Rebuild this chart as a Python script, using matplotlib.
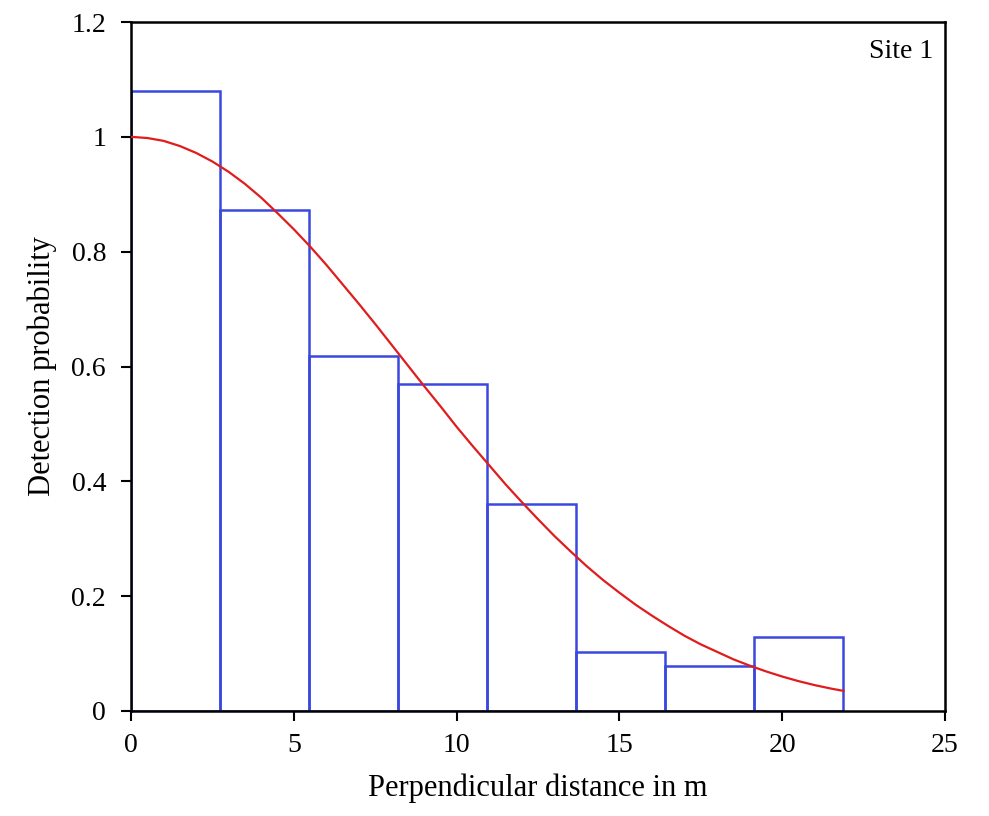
import matplotlib
matplotlib.use("Agg")
import matplotlib.pyplot as plt
import numpy as np

# Histogram of perpendicular distances (scaled)
bin_edges = [0, 2.735, 5.47, 8.205, 10.94, 13.675, 16.41, 19.145, 21.88]
bin_heights = [1.08, 0.872, 0.618, 0.570, 0.361, 0.103, 0.078, 0.128]

# Fitted detection function
curve_x = [0, 0.5, 1, 1.5, 2, 2.5, 3, 3.5, 4, 4.5, 5, 5.5, 6, 6.5, 7, 7.5, 8, 8.5,
           9, 9.5, 10, 10.5, 11, 11.5, 12, 12.5, 13, 13.5, 14, 14.5, 15, 15.5,
           16, 16.5, 17, 17.5, 18, 18.5, 19, 19.5, 20, 20.5, 21, 21.5, 21.88]
curve_y = [1.000, 0.998, 0.993, 0.984, 0.972, 0.957, 0.939, 0.918, 0.894, 0.867,
           0.839, 0.809, 0.777, 0.743, 0.709, 0.674, 0.638, 0.602, 0.566, 0.531,
           0.495, 0.461, 0.428, 0.395, 0.364, 0.334, 0.305, 0.278, 0.252, 0.228,
           0.206, 0.185, 0.166, 0.148, 0.131, 0.116, 0.103, 0.090, 0.079, 0.069,
           0.060, 0.052, 0.045, 0.039, 0.035]

plt.rcParams['font.family'] = ['Liberation Serif', 'DejaVu Serif']

fig = plt.figure(figsize=(9.89, 8.16), dpi=100)
ax = fig.add_axes([0.1325, 0.1287, 0.823, 0.8443])

left = np.array(bin_edges[:-1])
widths = np.diff(bin_edges)
ax.bar(left, bin_heights, width=widths, align='edge', fill=False,
       edgecolor='#3a48e0', linewidth=1.8, zorder=2)
ax.plot(curve_x, curve_y, color='#e01c1c', linewidth=1.6, zorder=3)

ax.set_xlim(0, 25)
ax.set_ylim(0, 1.2)
ax.set_xticks([0, 5, 10, 15, 20, 25])
ax.set_yticks([0, 0.2, 0.4, 0.6, 0.8, 1.0, 1.2])
ax.set_yticklabels(['0', '0.2', '0.4', '0.6', '0.8', '1', '1.2'])
ax.tick_params(direction='out', length=7, width=1.5, labelsize=20)
ax.tick_params(axis='y', pad=11)
ax.tick_params(axis='x', pad=9)
for s in ax.spines.values():
    s.set_linewidth(1.8)

ax.set_xlabel('Perpendicular distance in m', fontsize=22, labelpad=11)
ax.set_ylabel('Detection probability', fontsize=22, labelpad=10)
ax.text(0.985, 0.975, 'Site 1', transform=ax.transAxes, ha='right', va='top', fontsize=20)

fig.savefig('out.png', dpi=100)
